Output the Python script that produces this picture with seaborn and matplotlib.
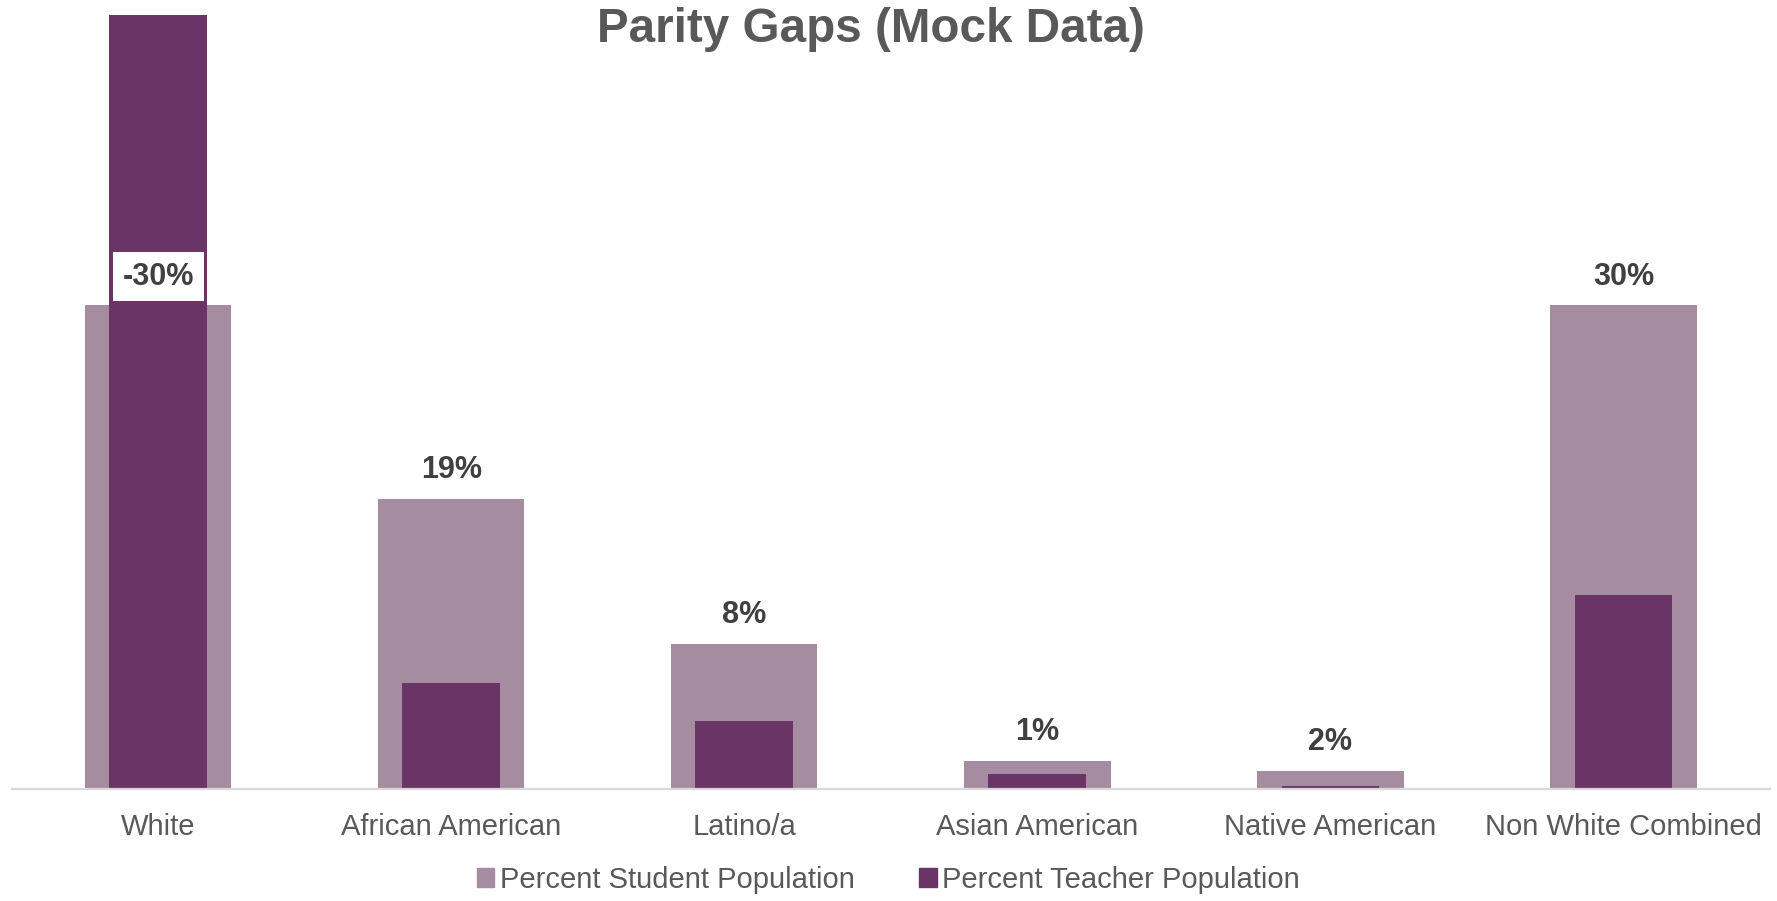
import seaborn as sns
import matplotlib.pyplot as plt
from matplotlib.patches import Patch
import pandas as pd

# Datos (porcentajes)
categorias = ["White", "African American", "Latino/a", "Asian American",
              "Native American", "Non White Combined"]
estudiantes = [50, 30, 15, 2.9, 1.9, 50]
profesores = [80, 11, 7, 1.5, 0.3, 20]

color_est = "#A58CA1"
color_prof = "#6A3466"

df = pd.DataFrame({"categoria": categorias,
                   "estudiantes": estudiantes,
                   "profesores": profesores})
df["brecha"] = df["estudiantes"] - df["profesores"]

sns.set_style("white")
plt.rcParams["font.family"] = ["Liberation Sans", "DejaVu Sans"]

fig = plt.figure(figsize=(17.77, 9.01), dpi=100)
ax = fig.add_axes([0.0065, 0.1243, 0.9895, 0.8594])

sns.barplot(data=df, x="categoria", y="estudiantes", color=color_est,
            width=0.5, saturation=1, linewidth=0, ax=ax)
sns.barplot(data=df, x="categoria", y="profesores", color=color_prof,
            width=0.333, saturation=1, linewidth=0, ax=ax)

# Etiquetas de brecha encima de la barra de estudiantes
for i, fila in df.iterrows():
    ax.annotate(f"{fila['brecha']:.0f}%", (i, fila["estudiantes"]),
                xytext=(0, 20.5), textcoords="offset points",
                ha="center", va="center", fontsize=22, fontweight="bold",
                color="#404040",
                bbox=dict(boxstyle="square,pad=0.32", fc="white", ec="none"))

ax.set_xlim(-0.5, 5.5)
ax.set_ylim(0, 80)
ax.set_xlabel("")
ax.set_ylabel("")
ax.set_yticks([])
for lado in ["top", "left", "right"]:
    ax.spines[lado].set_visible(False)
ax.spines["bottom"].set_color("#D9D9D9")
ax.spines["bottom"].set_linewidth(1.6)
ax.tick_params(axis="x", length=0, pad=17, labelsize=21, labelcolor="#595959")

fig.text(0.49, 0.967, "Parity Gaps (Mock Data)", ha="center", va="center",
         fontsize=34.3, fontweight="bold", color="#595959")

handles = [Patch(color=color_est, label="Percent Student Population"),
           Patch(color=color_prof, label="Percent Teacher Population")]
fig.legend(handles=handles, loc="center", bbox_to_anchor=(0.5, 0.0235),
           ncol=2, frameon=False, fontsize=21, labelcolor="#595959",
           handlelength=0.6, handleheight=0.6, handletextpad=0.2,
           columnspacing=2.2)

fig.savefig("out.png", dpi=100)
